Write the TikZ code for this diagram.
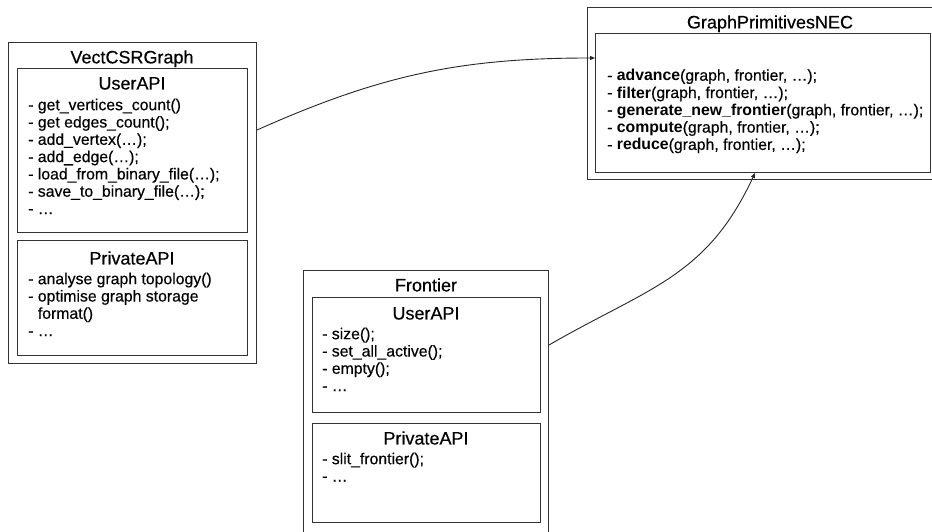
\documentclass[tikz,border=0pt]{standalone}
\usepackage{fontspec}
\setmainfont{Liberation Sans}[UprightFeatures={FakeBold=0.35}]
\usetikzlibrary{arrows.meta}

\begin{document}
\begin{tikzpicture}[x=1pt,y=1pt,
  box/.style={draw=black!80, line width=1pt, rectangle, inner sep=0pt, anchor=north west},
  ttl/.style={font=\fontsize{18}{21}\selectfont, anchor=base, inner sep=0pt},
  lst/.style={font=\fontsize{15.8}{17.3}\selectfont, align=left, anchor=north west, inner sep=0pt},
  link/.style={draw=black!85, line width=0.9pt, -{Triangle[length=5pt,width=4pt]}}
]
\fill[white] (0,0) rectangle (932,532);
\useasboundingbox (0,0) rectangle (932,532);

% VectCSRGraph class
\node[box, minimum width=248, minimum height=321] (vect) at (8,490) {};
\node[box, minimum width=230, minimum height=164] (vuser) at (17,464) {};
\node[box, minimum width=230, minimum height=115] (vpriv) at (17,292) {};
\node[ttl] (vtitle) at (132,468.6) {VectCSRGraph};
\node[ttl] (vusert) at (132,442.5) {UserAPI};
\node[ttl] (vprivt) at (132,267.5) {PrivateAPI};
\node[lst] (vuserl) at (28,434.1) {\strut- get\_vertices\_count()\\
- get edges\_count();\\
- add\_vertex(…);\\
- add\_edge(…);\\
- load\_from\_binary\_file(…);\\
- save\_to\_binary\_file(…);\\
- …};
\node[lst] (vprivl) at (28,260.1) {\strut- analyse graph topology()\\
- optimise graph storage\\
\hphantom{- }format()\\
- …};

% Frontier class
\node[box, minimum width=245, minimum height=275] (front) at (303,262) {};
\node[box, minimum width=228, minimum height=115] (fuser) at (312,235) {};
\node[box, minimum width=228, minimum height=99] (fpriv) at (312,109) {};
\node[ttl] (ftitle) at (426,240.6) {Frontier};
\node[ttl] (fusert) at (426,212.5) {UserAPI};
\node[ttl] (fprivt) at (426,87.5) {PrivateAPI};
\node[lst] (fuserl) at (322,205.1) {\strut- size();\\
- set\_all\_active();\\
- empty();\\
- …};
\node[lst] (fprivl) at (322,80.1) {\strut- slit\_frontier();\\
- …};

% GraphPrimitivesNEC
\node[box, minimum width=360, minimum height=172] (nec) at (587,525) {};
\node[box, minimum width=335, minimum height=139] (necin) at (595,499) {};
\node[ttl] (nectitle) at (770,503.6) {GraphPrimitivesNEC};
\node[lst] (necl) at (607,463.6) {\strut- \textbf{advance}(graph, frontier, …);\\
- \textbf{filter}(graph, frontier, …);\\
- \textbf{generate\_new\_frontier}(graph, frontier, …);\\
- \textbf{compute}(graph, frontier, …);\\
- \textbf{reduce}(graph, frontier, …);};

% connectors
\coordinate (vout) at ([yshift=-88]vect.north east);
\coordinate (necleft) at ([yshift=-25]necin.north west);
\coordinate (fout) at ([yshift=-75]front.north east);
\coordinate (necbot) at ([xshift=160]necin.south west);
\draw[link] (vout) to[out=24, in=180] (necleft);
\draw[link] (fout) to[out=30, in=245, looseness=1.1] (necbot);
\end{tikzpicture}
\end{document}
